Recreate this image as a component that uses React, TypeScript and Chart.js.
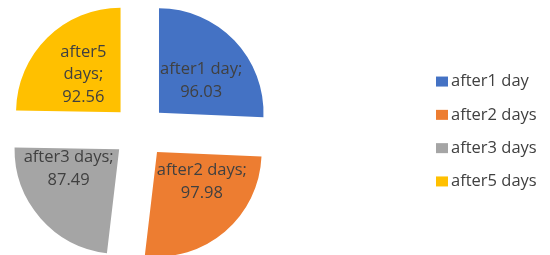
import React, { useEffect, useRef } from "react";
import { Chart, registerables } from "chart.js";

Chart.register(...registerables);

// ---- data ----
const categories = ["after1 day", "after2 days", "after3 days", "after5 days"];
const values = [96.03, 97.98, 87.49, 92.56];
const colors = ["#4472C4", "#ED7D31", "#A5A5A5", "#FFC000"];
const wrapLabel = [false, false, false, true];

// ---- style ----
const FONT_FAMILY = "'Open Sans', sans-serif";
const FONT_SIZE = 16.5;
const TEXT_COLOR = "#404040";
const EXPLODE = 27;
const RADIUS = 104.5;
const LINE_H = 22.5;
const LABEL_DIST = 80; // preferred label distance from the pie centre
const LEGEND_X = 436;
const BOX_W = 12;
const BOX_H = 10;
const BOX_GAP = 3;
const LEGEND_SPACING = 33.3;

// Finds a label centre: preferred on the slice bisector at LABEL_DIST,
// rotated / moved as little as needed so the text block fits in the slice.
function fitLabel(
  cx0: number, cy0: number, vx: number, vy: number, r: number,
  a0: number, a1: number, blockW: number, blockH: number, margin: number
) {
  const c0 = Math.cos(a0), s0 = Math.sin(a0), c1 = Math.cos(a1), s1 = Math.sin(a1);
  const rr = (r - margin) * (r - margin);
  const inside = (px: number, py: number) => {
    const dx = px - vx, dy = py - vy;
    if (dx * dx + dy * dy > rr) return false;
    if (c0 * dy - s0 * dx < margin) return false;
    if (c1 * dy - s1 * dx > -margin) return false;
    return true;
  };
  const fits = (x: number, y: number) => {
    const hw = blockW / 2, hh = blockH / 2;
    return inside(x - hw, y - hh) && inside(x + hw, y - hh) &&
      inside(x - hw, y + hh) && inside(x + hw, y + hh);
  };
  const mid = (a0 + a1) / 2;
  const step = Math.PI / 720;
  for (let dd = 0; dd <= 60; dd++) {
    for (const sgnD of dd === 0 ? [1] : [-1, 1]) {
      const dist = LABEL_DIST + sgnD * dd;
      for (let k = 0; mid - k * step >= a0 || mid + k * step <= a1; k++) {
        for (const sg of k === 0 ? [1] : [1, -1]) {
          const a = mid + sg * k * step;
          if (a < a0 || a > a1) continue;
          const x = cx0 + Math.cos(a) * dist;
          const y = cy0 + Math.sin(a) * dist;
          if (fits(x, y)) return { x, y };
        }
      }
    }
  }
  return { x: cx0 + Math.cos(mid) * LABEL_DIST, y: cy0 + Math.sin(mid) * LABEL_DIST };
}

const sliceLabels = {
  id: "sliceLabels",
  afterDatasetsDraw(chart: any) {
    const ctx = chart.ctx as CanvasRenderingContext2D;
    const meta = chart.getDatasetMeta(0);
    ctx.save();
    ctx.font = `${FONT_SIZE}px ${FONT_FAMILY}`;
    ctx.fillStyle = TEXT_COLOR;
    ctx.textAlign = "center";
    ctx.textBaseline = "middle";
    meta.data.forEach((arc: any, i: number) => {
      const p = arc.getProps(["x", "y", "startAngle", "endAngle", "outerRadius"], true);
      const mid = (p.startAngle + p.endAngle) / 2;
      const vx = p.x + Math.cos(mid) * EXPLODE;
      const vy = p.y + Math.sin(mid) * EXPLODE;
      const head = `${categories[i]};`;
      const val = values[i].toFixed(2);
      const lines = wrapLabel[i] ? [...head.split(" "), val] : [head, val];
      const blockW = Math.max(...lines.map((l) => ctx.measureText(l).width));
      const blockH = (lines.length - 1) * LINE_H + FONT_SIZE * 0.8;
      const pos = fitLabel(p.x, p.y, vx, vy, p.outerRadius, p.startAngle, p.endAngle, blockW, blockH, 1);
      lines.forEach((l, k) => {
        ctx.fillText(l, pos.x, pos.y + (k - (lines.length - 1) / 2) * LINE_H);
      });
    });
    ctx.restore();
  },
};

const sideLegend = {
  id: "sideLegend",
  afterDraw(chart: any) {
    const ctx = chart.ctx as CanvasRenderingContext2D;
    const ca = chart.chartArea;
    const cy = (ca.top + ca.bottom) / 2;
    ctx.save();
    ctx.font = `${FONT_SIZE}px ${FONT_FAMILY}`;
    ctx.textAlign = "left";
    ctx.textBaseline = "middle";
    categories.forEach((c, i) => {
      const y = cy + (i - (categories.length - 1) / 2) * LEGEND_SPACING;
      ctx.fillStyle = colors[i];
      ctx.fillRect(LEGEND_X, y - BOX_H / 2, BOX_W, BOX_H);
      ctx.fillStyle = TEXT_COLOR;
      ctx.fillText(c, LEGEND_X + BOX_W + BOX_GAP, y);
    });
    ctx.restore();
  },
};

export default function App() {
  const canvasRef = useRef<HTMLCanvasElement | null>(null);

  useEffect(() => {
    if (!canvasRef.current) return;
    const chart = new Chart(canvasRef.current, {
      type: "pie",
      data: {
        labels: categories,
        datasets: [
          {
            data: values,
            backgroundColor: colors,
            borderWidth: 0,
            offset: EXPLODE * 4,
            radius: RADIUS,
          } as any,
        ],
      },
      options: {
        responsive: true,
        maintainAspectRatio: false,
        animation: false,
        layout: { padding: { top: 8, right: 271, bottom: 0, left: 0 } },
        plugins: {
          legend: { display: false },
          tooltip: { enabled: false },
        },
      },
      plugins: [sliceLabels, sideLegend],
    });
    return () => chart.destroy();
  }, []);

  return (
    <div style={{ position: "fixed", left: 0, top: 0, width: 550, height: 255, background: "#fff" }}>
      <canvas ref={canvasRef} />
    </div>
  );
}
